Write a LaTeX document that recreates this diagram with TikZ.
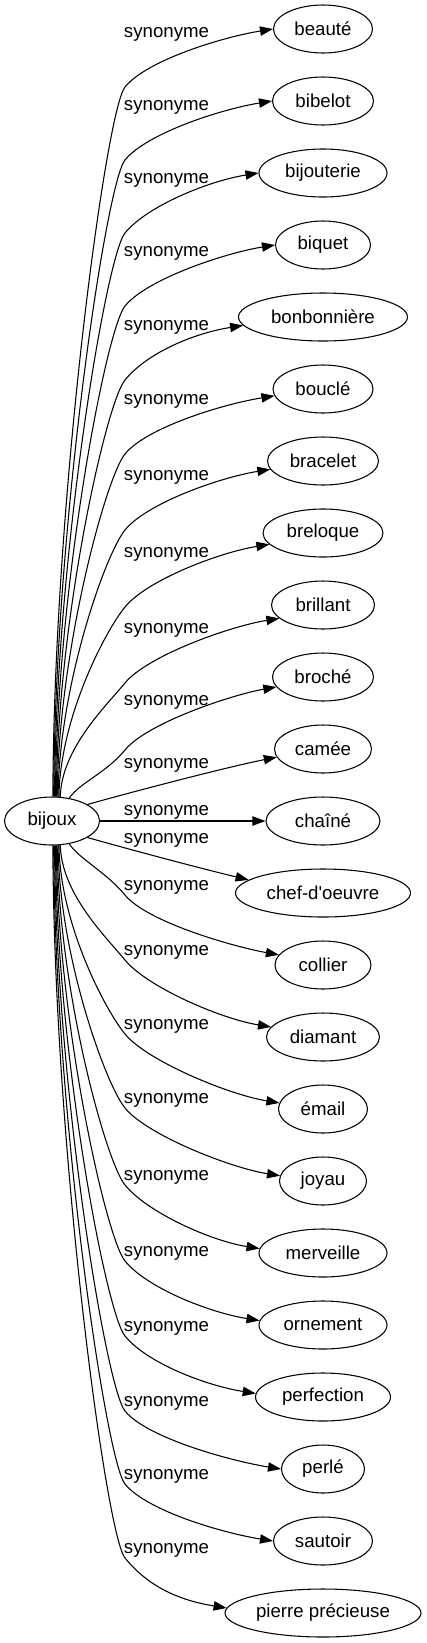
\documentclass[tikz,border=0pt]{standalone}
\usepackage{fontspec}
\setmainfont{Liberation Sans}
\usetikzlibrary{arrows.meta,shapes.geometric}
\begin{document}
\begin{tikzpicture}[x=0.75pt,y=-0.75pt,
  word/.style={draw, ellipse, line width=0.8pt, minimum height=36pt, inner sep=0pt,
    font=\fontsize{14pt}{16pt}\selectfont, minimum width=#1*0.75pt},
  lbl/.style={anchor=base, inner sep=0pt, font=\fontsize{14pt}{16pt}\selectfont},
  conn/.style={draw, line width=0.8pt, -{Triangle[length=9.75pt,width=7pt]}}]
\useasboundingbox (0,0) rectangle (426,1643);
\node[word=95] (bijoux) at (52,821) {bijoux};
\foreach \id/\txt/\w/\i in {beaute/beauté/99/0, bibelot/bibelot/101/1, bijouterie/bijouterie/128/2,
  biquet/biquet/95/3, bonbonniere/bonbonnière/169/4, boucle/bouclé/100/5, bracelet/bracelet/111/6,
  breloque/breloque/120/7, brillant/brillant/103/8, broche/broché/101/9, camee/camée/97/10,
  chaine/chaîné/114/11, chef/chef-d\textquotesingle oeuvre/175/12, collier/collier/96/13, diamant/diamant/113/14,
  email/émail/89/15, joyau/joyau/87/16, merveille/merveille/128/17, ornement/ornement/128/18,
  perfection/perfection/135/19, perle/perlé/83/20, sautoir/sautoir/99/21,
  pierre/pierre précieuse/196/22}
  \node[word=\w] (\id) at (323,{29+72*\i}) {\txt};
\foreach \L [count=\k] in {32,105,178,251,325,399,475,552,628,700,763,810,838,885,950,1024,1098,1175,1251,1326,1401,1474,1548}
  \node[lbl] (lab\k) at (166.5,{\L+5}) {synonyme};
\foreach \id/\sa/\my/\ea in {beaute/88/87/180, bibelot/86/160/180, bijouterie/84/233/180,
  biquet/82/306/180, bonbonniere/80/380/186, boucle/78/454/188, bracelet/76/530/189,
  breloque/74/607/192, brillant/71/683/197}{
  \pgfmathsetmacro\cy{-0.42*(797-\my)}
  \draw[conn] (bijoux.\sa) .. controls +(1,\cy) and +(-19,23) .. (125,\my)
    .. controls +(22,-27) and +(-50,8) .. (\id.\ea);
}
\draw[conn] (bijoux.53) .. controls +(10,-15) and +(-19,23) .. (125,750)
  .. controls +(22,-27) and +(-45,8) .. (broche.192);
\draw[conn] (bijoux.25) .. controls +(50,-14) and +(-50,10) .. (camee.190);
\draw[conn] (bijoux.east) -- (chaine.west);
\draw[conn] (bijoux.-25) .. controls +(50,14) and +(-50,-12) .. (chef.170);
\draw[conn] (bijoux.-53) .. controls +(10,15) and +(-19,-23) .. (125,895)
  .. controls +(22,27) and +(-45,-8) .. (collier.167);
\foreach \id/\sa/\my/\ea in {diamant/-71/960/169, email/-74/1034/172, joyau/-76/1108/173,
  merveille/-78/1185/176, ornement/-80/1261/176, perfection/-82/1336/177,
  perle/-84/1411/180, sautoir/-86/1484/180, pierre/-88/1558/177}{
  \pgfmathsetmacro\cy{0.42*(\my-845)}
  \draw[conn] (bijoux.\sa) .. controls +(1,\cy) and +(-19,-23) .. (125,\my)
    .. controls +(22,27) and +(-50,-8) .. (\id.\ea);
}
\end{tikzpicture}
\end{document}
